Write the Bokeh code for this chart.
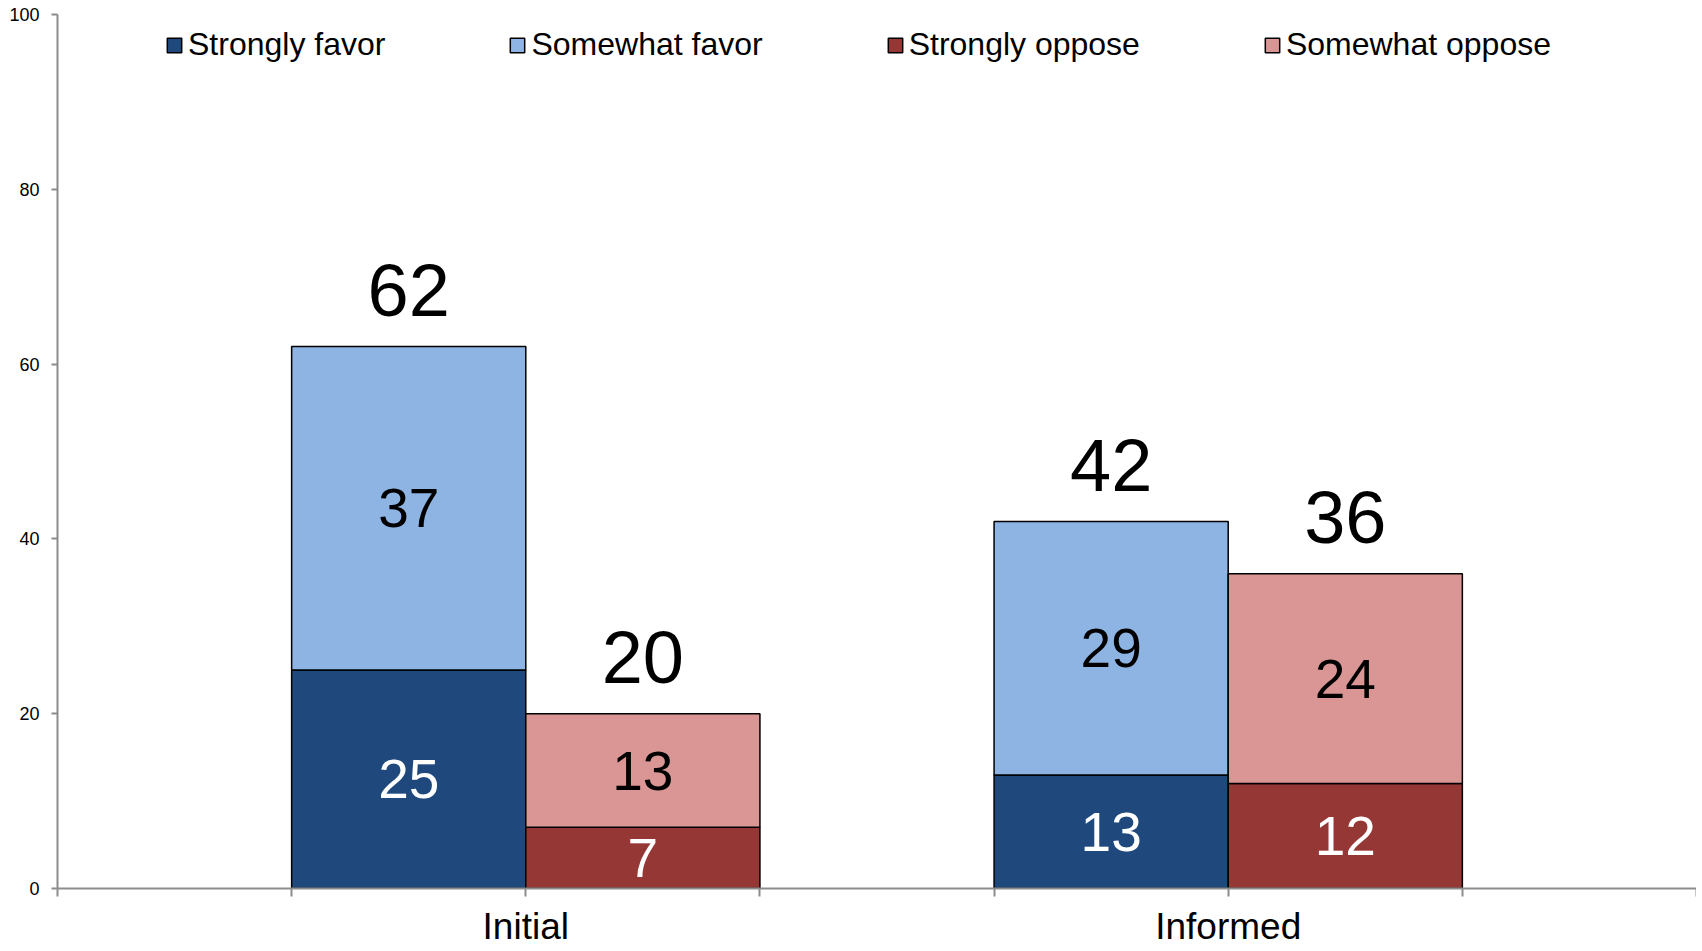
from bokeh.plotting import figure
from bokeh.models import (Range1d, FixedTicker, Legend, LegendItem, ColumnDataSource)
from bokeh.core.properties import value
from bokeh.embed import file_html
from bokeh.resources import INLINE

# ---- data ----
categories = ["Initial", "Informed"]
strongly_favor = [25, 13]
somewhat_favor = [37, 29]
strongly_oppose = [7, 12]
somewhat_oppose = [13, 24]
series_names = ["Strongly favor", "Somewhat favor", "Strongly oppose", "Somewhat oppose"]
colors = ["#1F497D", "#8EB4E3", "#953735", "#D99694"]
y_ticks = [0, 20, 40, 60, 80, 100]

FONT = "Liberation Sans"

# each category occupies 3 slots: favor bar, oppose bar, empty gap
centers = [2 + 3 * i for i in range(len(categories))]
fav_x = [c - 0.5 for c in centers]
opp_x = [c + 0.5 for c in centers]

p = figure(width=1696, height=949, output_backend="svg", toolbar_location=None,
           x_range=Range1d(0, 3 * len(categories) + 1), y_range=Range1d(0, 100),
           min_border_left=57, min_border_right=0, min_border_top=14, min_border_bottom=61)
p.outline_line_color = None
p.xgrid.visible = False
p.ygrid.visible = False
p.background_fill_color = "white"
p.border_fill_color = "white"

sf_top = strongly_favor
wf_top = [a + b for a, b in zip(strongly_favor, somewhat_favor)]
so_top = strongly_oppose
wo_top = [a + b for a, b in zip(strongly_oppose, somewhat_oppose)]

r_sf = p.vbar(x=fav_x, bottom=0, top=sf_top, width=1, fill_color=colors[0], line_color="black", line_width=1.5)
r_wf = p.vbar(x=fav_x, bottom=sf_top, top=wf_top, width=1, fill_color=colors[1], line_color="black", line_width=1.5)
r_so = p.vbar(x=opp_x, bottom=0, top=so_top, width=1, fill_color=colors[2], line_color="black", line_width=1.5)
r_wo = p.vbar(x=opp_x, bottom=so_top, top=wo_top, width=1, fill_color=colors[3], line_color="black", line_width=1.5)

# segment labels
lx, ly, lt, lc = [], [], [], []
for i in range(len(categories)):
    lx += [fav_x[i], fav_x[i], opp_x[i], opp_x[i]]
    ly += [strongly_favor[i] / 2, strongly_favor[i] + somewhat_favor[i] / 2,
           strongly_oppose[i] / 2, strongly_oppose[i] + somewhat_oppose[i] / 2]
    lt += [str(strongly_favor[i]), str(somewhat_favor[i]), str(strongly_oppose[i]), str(somewhat_oppose[i])]
    lc += ["white", "black", "white", "black"]
src = ColumnDataSource(dict(x=lx, y=ly, t=lt, c=lc))
p.text(x="x", y="y", text="t", text_color="c", source=src, text_align="center",
       text_baseline="middle", text_font=value(FONT), text_font_size="55px")

# totals above bars
tx = fav_x + opp_x
ty = wf_top + wo_top
tsrc = ColumnDataSource(dict(x=tx, y=ty, t=[str(v) for v in ty]))
p.text(x="x", y="y", text="t", source=tsrc, text_align="center", text_baseline="middle",
       y_offset=-56, text_font=value(FONT), text_font_size="74px", text_color="black")

# axes
axis_color = "#8C8C8C"
p.xaxis.ticker = FixedTicker(ticks=list(range(0, 3 * len(categories) + 2)))
overrides = {t: "" for t in range(0, 3 * len(categories) + 2)}
for c, name in zip(centers, categories):
    overrides[c] = name
p.xaxis.major_label_overrides = overrides
p.xaxis.axis_line_color = axis_color
p.xaxis.axis_line_width = 2
p.xaxis.major_tick_line_color = axis_color
p.xaxis.major_tick_line_width = 2
p.xaxis.major_tick_out = 8
p.xaxis.major_tick_in = 0
p.xaxis.minor_tick_line_color = None
p.xaxis.major_label_text_font = FONT
p.xaxis.major_label_text_font_size = "37px"
p.xaxis.major_label_text_color = "black"
p.xaxis.major_label_standoff = 9

p.yaxis.ticker = FixedTicker(ticks=y_ticks)
p.yaxis.axis_line_color = axis_color
p.yaxis.axis_line_width = 2
p.yaxis.major_tick_line_color = axis_color
p.yaxis.major_tick_line_width = 2
p.yaxis.major_tick_out = 6
p.yaxis.major_tick_in = 0
p.yaxis.minor_tick_line_color = None
p.yaxis.major_label_text_font = FONT
p.yaxis.major_label_text_font_size = "18px"
p.yaxis.major_label_text_color = "black"
p.yaxis.major_label_standoff = 12

legend = Legend(items=[LegendItem(label=n, renderers=[r]) for n, r in zip(series_names, [r_sf, r_wf, r_so, r_wo])],
                orientation="horizontal", location=(108, 825), padding=0, margin=0, spacing=123,
                glyph_width=18, glyph_height=18, label_standoff=5,
                label_text_font=FONT, label_text_font_size="32px", label_text_color="black",
                border_line_color=None, background_fill_alpha=0)
p.add_layout(legend)

open("out.html", "w").write(file_html(p, INLINE))
